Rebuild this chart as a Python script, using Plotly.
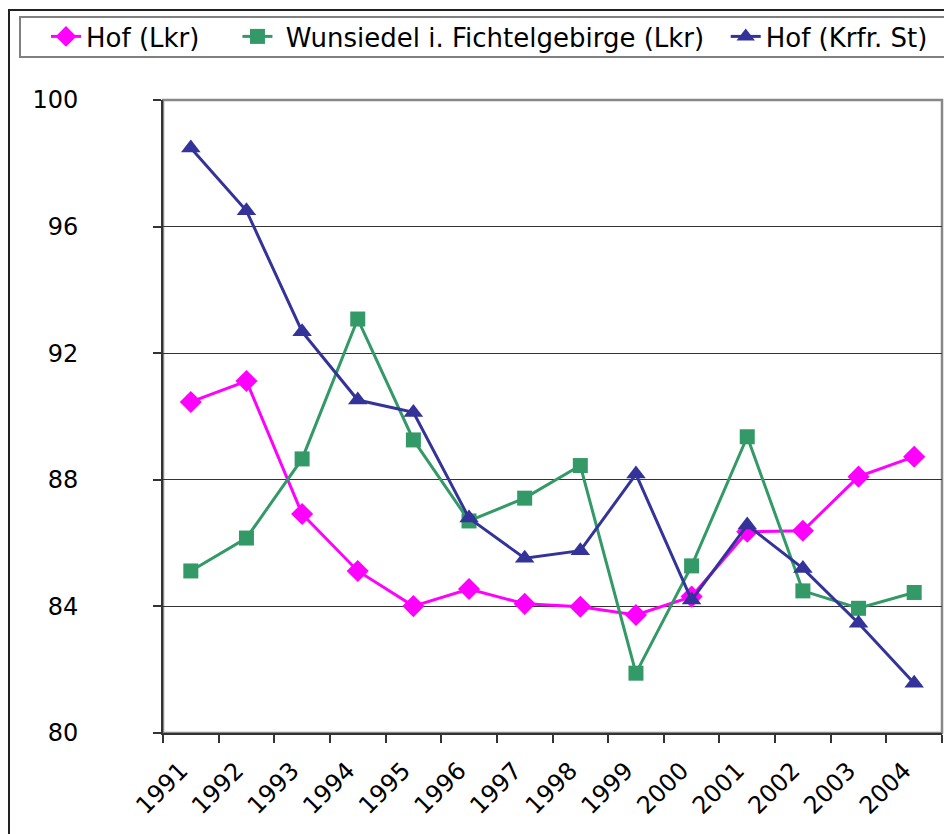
import plotly.graph_objects as go

years = ["1991", "1992", "1993", "1994", "1995", "1996", "1997",
         "1998", "1999", "2000", "2001", "2002", "2003", "2004"]
hof_lkr = [90.46, 91.12, 86.92, 85.12, 84.01, 84.55, 84.08,
           83.99, 83.73, 84.31, 86.36, 86.39, 88.10, 88.73]
wunsiedel = [85.12, 86.16, 88.66, 93.08, 89.26, 86.70, 87.42,
             88.45, 81.89, 85.28, 89.36, 84.49, 83.94, 84.44]
hof_st = [98.48, 96.50, 92.68, 90.52, 90.13, 86.79, 85.52,
          85.76, 88.18, 84.20, 86.57, 85.20, 83.47, 81.57]
y_ticks = [80, 84, 88, 92, 96, 100]

NB = "\u00a0"
FONT = "DejaVu Sans"
W, H = 952, 834
OFF = 8  # page offset of the figure in the browser
L, R, T, B = 155, 18, 92, 109
pw, ph = W - L - R, H - T - B


def px(xs):  # figure-pixel x -> paper
    return (xs - L) / pw


def py(ys):  # figure-pixel y -> paper
    return 1 - (ys - T) / ph


fig = go.Figure()
fig.add_trace(go.Scatter(x=years, y=hof_lkr, name="Hof (Lkr)" + NB * 4,
                         mode="lines+markers",
                         line=dict(color="#FF00FF", width=3),
                         marker=dict(symbol="diamond", size=17, color="#FF00FF")))
fig.add_trace(go.Scatter(x=years, y=wunsiedel,
                         name=NB + "Wunsiedel i. Fichtelgebirge (Lkr)" + NB * 2,
                         mode="lines+markers",
                         line=dict(color="#339966", width=3),
                         marker=dict(symbol="square", size=15, color="#339966")))
fig.add_trace(go.Scatter(x=years, y=hof_st, name="Hof (Krfr. St)", mode="lines+markers",
                         line=dict(color="#333399", width=3),
                         marker=dict(symbol="triangle-up", size=17, color="#333399")))

fig.update_layout(
    width=W, height=H,
    margin=dict(l=L, r=R, t=T, b=B, autoexpand=False),
    paper_bgcolor="white", plot_bgcolor="white",
    font=dict(family=FONT, color="black", size=24),
    showlegend=True,
    legend=dict(orientation="h", x=px(88 - OFF - 42), y=py(17 - OFF - 4),
                xanchor="left", yanchor="top",
                borderwidth=0, bgcolor="rgba(0,0,0,0)",
                font=dict(family=FONT, size=26), itemwidth=30,
                tracegroupgap=0),
    xaxis=dict(type="category", range=[-0.5, 13.5], showgrid=False,
               showline=True, linecolor="#333333", linewidth=2,
               ticks="outside", ticklen=8, tickcolor="#333333", tickwidth=1.5,
               tickson="boundaries", tickangle=-45,
               ticklabelstandoff=12, ticklabelshift=-10,
               tickfont=dict(family=FONT, size=24)),
    yaxis=dict(range=[80, 100], tickvals=y_ticks, ticktext=[str(v) for v in y_ticks],
               showgrid=True, gridcolor="#333333", gridwidth=1.3,
               showline=True, linecolor="#333333", linewidth=2,
               ticks="outside", ticklen=8, tickcolor="#333333", tickwidth=1.5,
               ticklabelstandoff=70, zeroline=False,
               tickfont=dict(family=FONT, size=24)),
    shapes=[
        dict(type="rect", xref="paper", yref="paper", x0=0, x1=1, y0=0, y1=1,
             line=dict(color="#888888", width=2.5), layer="below"),
        dict(type="rect", xref="paper", yref="paper",
             x0=px(1), x1=px(W + 30), y0=py(H + 30), y1=py(2),
             line=dict(color="#222222", width=2), layer="below"),
        dict(type="rect", xref="paper", yref="paper",
             x0=px(20 - OFF), x1=px(950 - OFF), y0=py(57 - OFF), y1=py(17 - OFF),
             line=dict(color="#808080", width=2), fillcolor="rgba(0,0,0,0)",
             layer="below"),
    ],
)

fig.write_html("out.html")
